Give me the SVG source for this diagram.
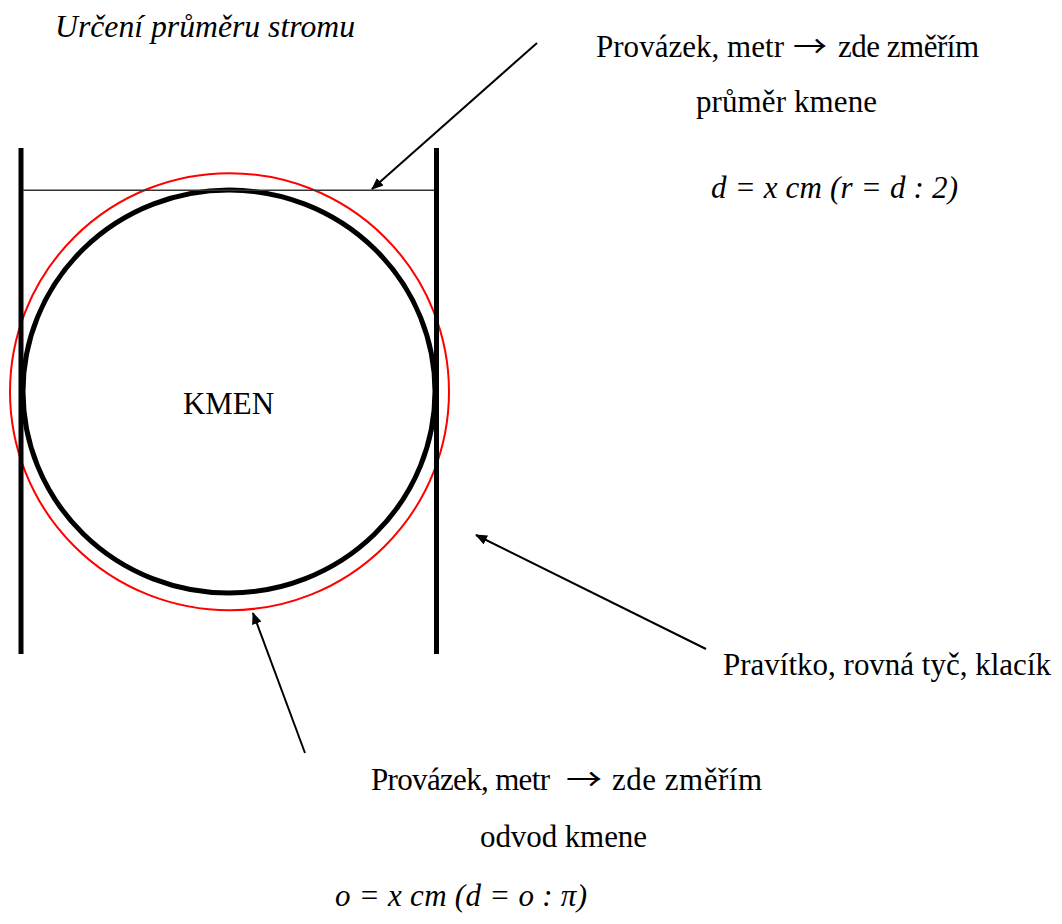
<svg xmlns="http://www.w3.org/2000/svg" width="1062" height="924" viewBox="0 0 1062 924">
  <style>
    text { font-family: "Liberation Serif", "Times New Roman", serif; font-size: 31px; fill: #000; }
    .it { font-style: italic; }
    .arr { font-family: "Noto Sans CJK SC", "Liberation Serif", serif; font-size: 30px; }
    .bar { stroke: #000; stroke-width: 5; fill: none; }
    .conn { stroke: #000; stroke-width: 2; fill: none; marker-end: url(#ah); }
  </style>
  <defs>
    <marker id="ah" viewBox="0 0 12 10" refX="11" refY="5" markerWidth="12" markerHeight="10" markerUnits="userSpaceOnUse" orient="auto">
      <path d="M0,0 L12,5 L0,10 Z" fill="#000"/>
    </marker>
  </defs>
  <rect width="1062" height="924" fill="#fff"/>

  <text id="title" class="it" x="55" y="37" textLength="300" lengthAdjust="spacingAndGlyphs">Určení průměru stromu</text>

  <g id="trunk">
    <ellipse cx="229.5" cy="391.7" rx="219.5" ry="218.5" fill="none" stroke="#ff0000" stroke-width="2"/>
    <ellipse cx="229" cy="391.5" rx="206" ry="201.5" fill="none" stroke="#000" stroke-width="5"/>
    <text x="183" y="414" textLength="91" lengthAdjust="spacingAndGlyphs">KMEN</text>
  </g>

  <g id="ruler">
    <line class="bar" x1="21" y1="148" x2="21" y2="654"/>
    <line class="bar" x1="436.5" y1="148" x2="436.5" y2="654"/>
  </g>

  <g id="string">
    <line x1="23" y1="190.3" x2="434" y2="190.3" stroke="#333" stroke-width="1.5"/>
  </g>

  <g id="connectors">
    <line class="conn" x1="537" y1="43" x2="372" y2="189"/>
    <line class="conn" x1="305" y1="753" x2="253" y2="613"/>
    <line class="conn" x1="706" y1="649" x2="476" y2="535"/>
  </g>

  <g id="label-diameter">
    <text x="596" y="57"><tspan textLength="188" lengthAdjust="spacing">Provázek, metr</tspan><tspan class="arr" x="793" textLength="34" lengthAdjust="spacingAndGlyphs">→</tspan><tspan x="838" textLength="141" lengthAdjust="spacing">zde změřím</tspan></text>
    <text x="696" y="112" textLength="181" lengthAdjust="spacing">průměr kmene</text>
    <text class="it" x="711" y="198" textLength="247" lengthAdjust="spacing">d = x cm (r = d : 2)</text>
  </g>

  <g id="label-ruler">
    <text x="723" y="675" textLength="328" lengthAdjust="spacing">Pravítko, rovná tyč, klacík</text>
  </g>

  <g id="label-circumference">
    <text x="371" y="790"><tspan textLength="179" lengthAdjust="spacing">Provázek, metr</tspan><tspan class="arr" x="566" textLength="36" lengthAdjust="spacingAndGlyphs">→</tspan><tspan x="612" textLength="150" lengthAdjust="spacing">zde změřím</tspan></text>
    <text x="480" y="847" textLength="167" lengthAdjust="spacing">odvod kmene</text>
    <text class="it" x="335" y="906" textLength="252" lengthAdjust="spacing">o = x cm (d = o : π)</text>
  </g>
</svg>
